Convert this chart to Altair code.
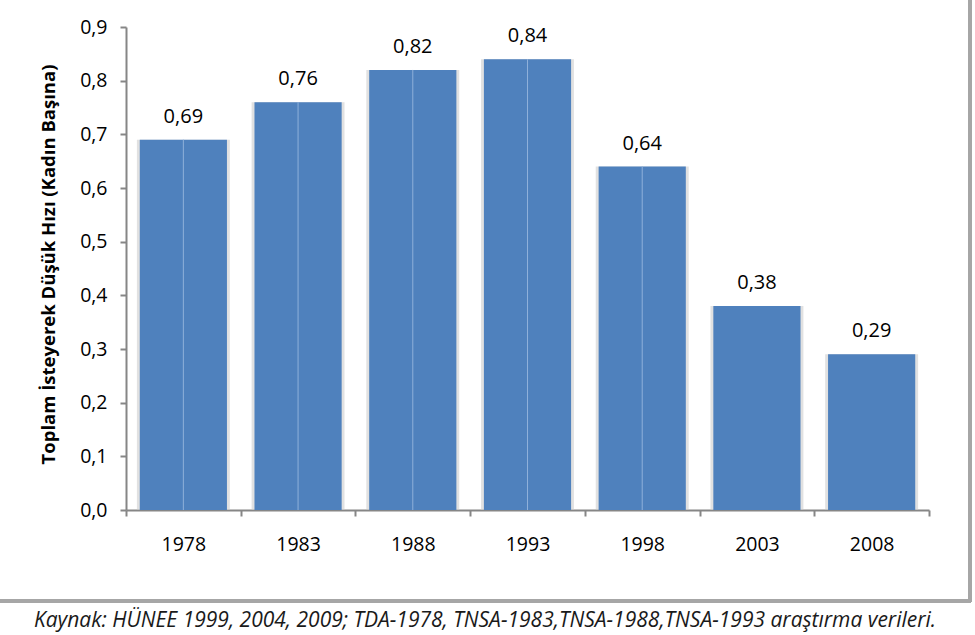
import altair as alt
import pandas as pd

years = ["1978", "1983", "1988", "1993", "1998", "2003", "2008"]
values = [0.69, 0.76, 0.82, 0.84, 0.64, 0.38, 0.29]
split_line = [True, True, True, True, True, False, False]
y_ticks = [0.0, 0.1, 0.2, 0.3, 0.4, 0.5, 0.6, 0.7, 0.8, 0.9]
y_title = "Toplam İsteyerek Düşük Hızı (Kadın Başına)"
caption = "Kaynak: HÜNEE 1999, 2004, 2009; TDA-1978, TNSA-1983,TNSA-1988,TNSA-1993 araştırma verileri."

df = pd.DataFrame({"year": years, "value": values, "split": split_line})
df["label"] = [f"{v:.2f}".replace(".", ",") for v in values]

FONT = "Open Sans"
BLUE = "#4F81BD"
AXIS_GRAY = "#868686"

x_enc = alt.X(
    "year:N",
    sort=years,
    scale=alt.Scale(paddingInner=0, paddingOuter=0),
    axis=alt.Axis(
        title=None,
        labelAngle=0,
        labelFont=FONT,
        labelFontSize=19.5,
        labelColor="#000000",
        labelPadding=19,
        domainColor=AXIS_GRAY,
        domainWidth=2,
        tickColor=AXIS_GRAY,
        tickWidth=2,
        tickSize=6,
        tickBand="extent",
    ),
)
y_enc = alt.Y(
    "value:Q",
    scale=alt.Scale(domain=[0, 0.9], nice=False),
    axis=alt.Axis(
        title=y_title,
        values=y_ticks,
        labelExpr="replace(format(datum.value, '.1f'), '.', ',')",
        labelFont=FONT,
        labelFontSize=19.5,
        labelColor="#000000",
        labelPadding=13,
        grid=False,
        domainColor=AXIS_GRAY,
        domainWidth=2,
        tickColor=AXIS_GRAY,
        tickWidth=2,
        tickSize=6,
        titleFont=FONT,
        titleFontSize=18.5,
        titleFontWeight="bold",
        titleColor="#000000",
        titleAngle=-90,
        titleX=-78,
        titleY=237,
        titleAlign="center",
        titleBaseline="middle",
    ),
)

base = alt.Chart(df)

shadow = base.mark_bar(
    color="#c8c8c8", opacity=0.55, width=alt.RelativeBandSize(0.81)
).encode(x=x_enc, y=y_enc)

bars = base.mark_bar(color=BLUE, width=alt.RelativeBandSize(0.76)).encode(
    x=x_enc, y=y_enc
)

lines = (
    base.transform_filter("datum.split")
    .mark_rule(color="#8fb0da", strokeWidth=1)
    .encode(x=x_enc, y=y_enc, y2=alt.datum(0))
)

labels = base.mark_text(
    font=FONT, fontSize=20, color="#000000", baseline="alphabetic", dy=-17
).encode(x=x_enc, y=y_enc, text="label:N")

frame_right = alt.Chart(df).mark_rule(color="#a6a6a6", strokeWidth=3).encode(
    x=alt.value(844), y=alt.value(-27), y2=alt.value(575)
)
frame_bottom = alt.Chart(df).mark_rule(color="#a6a6a6", strokeWidth=3).encode(
    x=alt.value(-130), x2=alt.value(845), y=alt.value(574)
)

cap = alt.Chart(pd.DataFrame({"t": [caption]})).mark_text(
    font=FONT, fontSize=21, fontStyle="italic", color="#1a1a1a",
    align="center", baseline="alphabetic",
).encode(x=alt.value(359), y=alt.value(600), text="t:N")

chart = (
    alt.layer(shadow, bars, lines, labels, frame_right, frame_bottom, cap)
    .properties(
        width=803,
        height=483,
        autosize=alt.AutoSizeParams(type="none"),
        padding={"left": 126, "top": 27, "right": 46, "bottom": 125},
        background="white",
    )
    .configure_view(stroke=None)
)

chart.save("out.html", embed_options={"renderer": "svg", "actions": False})
